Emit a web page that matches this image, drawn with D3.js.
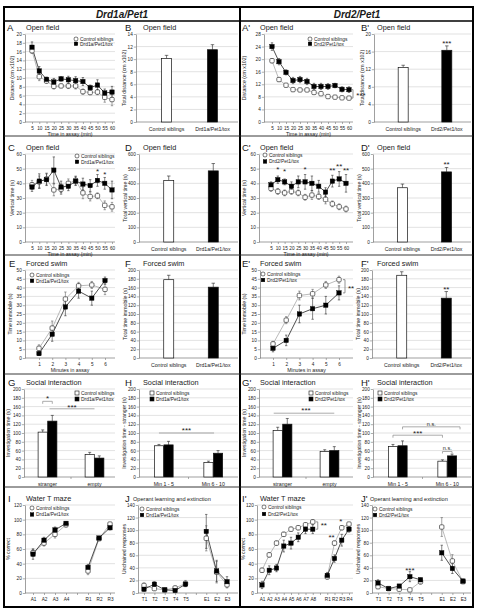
<!DOCTYPE html>
<html>
<head>
<meta charset="utf-8">
<script src="https://cdn.jsdelivr.net/npm/d3@7/dist/d3.min.js"></script>
<style>
html,body{margin:0;padding:0;background:#fff;}
svg{display:block;}
text{font-family:"Liberation Sans",Arial,sans-serif;fill:#1a1a1a;}
</style>
</head>
<body>
<svg id="fig" width="479" height="614"></svg>
<script>
// ---------------- DATA ----------------
const groupCtrl = "Control siblings";
const groupD1 = "Drd1a/Pet1/tox";
const groupD2 = "Drd2/Pet1/tox";

const timeCats = ["5","10","15","20","25","30","35","40","45","50","55","60"];
const minuteCats = ["1","2","3","4","5","6"];
const barCatsD1 = ["Control siblings","Drd1a/Pet1/tox"];
const barCatsD2 = ["Control siblings","Drd2/Pet1/tox"];
const socialCats = ["stranger","empty"];
const periodCats = ["Min 1 - 5","Min 6 - 10"];
const mazeCatsD1 = ["A1","A2","A3","A4","","R1","R2","R3"];
const mazeCatsD2 = ["A1","A2","A3","A4","A5","A6","A7","A8","","R1","R2","R3","R4"];
const operantCats = ["T1","T2","T3","T4","T5","","E1","E2","E3"];

// tick label arrays
const ticksDistA = [0,2,4,6,8,10,12,14,16,18,20];
const ticksDistB = [0,2,4,6,8,10,12,14];
const ticksDistAp = [0,4,8,12,16,20,24,28];
const ticksDistBp = [0,4,8,12,16,20];
const ticksVert = [0,10,20,30,40,50,60];
const ticksVertTot = [0,100,200,300,400,500,600];
const ticksImm = [0,5,10,15,20,25,30,35,40,45,50];
const ticksImmTot = [0,20,40,60,80,100,120,140,160,180,200];
const ticksSocial = [0,20,40,60,80,100,120,140,160,180,200];
const ticksMaze = [0,20,40,60,80,100,120];
const ticksOperant = [0,20,40,60,80,100,120,140];

// A  Open field distance (Drd1a)
const distCtrlD1 = [16.2,10.3,9.3,8.1,8.2,8.2,8.2,6.9,6.7,6.8,5.6,5.1];
const distCtrlErrD1 = [0.6,0.9,0.5,0.6,0.4,0.6,0.7,0.6,0.5,0.6,1.1,1.4];
const distMutD1 = [17.0,11.6,9.7,9.1,9.8,9.6,9.4,9.2,7.8,8.4,6.6,6.8];
const distMutErrD1 = [1.2,1.0,0.5,0.8,0.5,0.8,0.9,0.9,0.6,1.2,0.9,1.3];
// B
const totDistD1 = [10.1,11.5];
const totDistErrD1 = [0.5,0.8];
// A'
const distCtrlD2 = [19.5,13.5,11.7,10.3,10.2,10.2,9.4,9.0,8.1,7.9,7.7,7.6];
const distCtrlErrD2 = [0.7,0.6,0.5,0.5,0.4,0.5,0.5,0.5,0.4,0.4,0.4,0.4];
const distMutD2 = [24.0,19.2,15.8,13.2,13.5,12.9,11.3,11.3,11.3,11.6,10.4,10.3];
const distMutErrD2 = [1.2,1.0,0.8,1.0,1.0,1.0,1.0,1.0,0.9,0.7,0.8,0.9];
// B'
const totDistD2 = [12.4,16.3];
const totDistErrD2 = [0.5,1.0];
// C
const vertCtrlD1 = [39,41,43,35.5,36,40,42,33.5,31,31.5,25,24];
const vertCtrlErrD1 = [3,4,4,4,3.5,3,3,4,3,2,3,3];
const vertMutD1 = [37.5,41.5,42.5,49,37.5,38,41.5,39.5,38.5,42,40,35.5];
const vertMutErrD1 = [3,5,4,9,4,3,3,4,4,4,4,6];
// D
const totVertD1 = [420,485];
const totVertErrD1 = [30,50];
// C'
const vertCtrlD2 = [36.5,34.5,33.5,34.5,33.5,30.5,32,31,29,26,24,22.5];
const vertCtrlErrD2 = [2,2,2,2,2,2,3,2,3,2,2,2];
const vertMutD2 = [39,42.5,41,38,41,41,40,38,34,41.5,43,40];
const vertMutErrD2 = [2,2.5,2,3,4,5,5,4,3,4,5,6];
// D'
const totVertD2 = [370,478];
const totVertErrD2 = [25,30];
// E
const immCtrlD1 = [5.5,17,33.5,41,41.5,39];
const immCtrlErrD1 = [2,4,4,2,2,3];
const immMutD1 = [2.5,13.5,29,38,34,44];
const immMutErrD1 = [1,4,5,4,4,2];
// F
const totImmD1 = [178,161];
const totImmErrD1 = [10,9];
// E'
const immCtrlD2 = [8,21.5,35.5,36.5,41.5,44.5];
const immCtrlErrD2 = [1.5,2,2.5,2.5,2,2];
const immMutD2 = [5.5,10,25,28,30,37];
const immMutErrD2 = [2,3,5,6,5,4];
// F'
const totImmD2 = [188,136];
const totImmErrD2 = [8,15];
// G
const socCtrlD1 = [102,51];
const socCtrlErrD1 = [5,5];
const socMutD1 = [127,43];
const socMutErrD1 = [13,5];
// H
const perCtrlD1 = [71,33];
const perCtrlErrD1 = [3,3];
const perMutD1 = [73,54];
const perMutErrD1 = [8,6];
// G'
const socCtrlD2 = [106,58];
const socCtrlErrD2 = [7,4];
const socMutD2 = [120,60];
const socMutErrD2 = [13,9];
// H'
const perCtrlD2 = [69,36];
const perCtrlErrD2 = [5,3];
const perMutD2 = [71,48];
const perMutErrD2 = [11,4];
// I
const mazeCtrlD1 = [55,68,80,93,null,30,74,94];
const mazeCtrlErrD1 = [5,4,5,3,null,5,2,2];
const mazeMutD1 = [53,72,86,95,null,35,75,89];
const mazeMutErrD1 = [7,4,4,2,null,4,2,3];
// J
const opCtrlD1 = [12,7,5,8,15,null,87,33,13];
const opCtrlErrD1 = [4,3,2,3,5,null,20,17,5];
const opMutD1 = [6,14,5,4,14,null,98,35,18];
const opMutErrD1 = [3,4,1,2,3,null,27,17,8];
// I'
const mazeCtrlD2 = [31,52,68,80,87,89,93,97,null,22,68,89,94];
const mazeCtrlErrD2 = [3,3,3,3,3,3,3,3,null,3,3,3,2];
const mazeMutD2 = [11,31,34,64,68,76,87,87,null,24,47,72,87];
const mazeMutErrD2 = [5,6,5,8,8,6,6,6,null,4,5,8,4];
// J'
const opCtrlD2 = [10,7,6,5,18,null,105,51,18];
const opCtrlErrD2 = [2,1,1,1,4,null,15,10,3];
const opMutD2 = [16,7,11,26,21,null,64,39,19];
const opMutErrD2 = [5,1,2,8,3,null,12,8,3];

// ---------------- DRAWING ----------------
const svg = d3.select("#fig");
const FS_TICK = 4.7, FS_LEG = 4.9, FS_AT = 5.2, FS_TITLE = 7.3, FS_LET = 9.5, FS_STAR = 8;
const PH = 88;
const AX = "#777";

function yAxis(y, ax, xr, ticks) {
  svg.append("g").selectAll("line").data(ticks.slice(1)).join("line")
    .attr("x1", ax).attr("x2", xr).attr("y1", d => y(d)).attr("y2", d => y(d))
    .attr("stroke", "#cfcfcf").attr("stroke-width", 0.6);
  const g = svg.append("g").attr("transform", `translate(${ax},0)`)
    .call(d3.axisLeft(y).tickValues(ticks).tickSize(2.2).tickSizeOuter(0).tickPadding(1));
  g.attr("font-size", FS_TICK);
  g.select(".domain").attr("stroke", AX).attr("stroke-width", 0.7);
  g.selectAll(".tick line").attr("stroke", AX).attr("stroke-width", 0.6);
}
function xBase(ax, xr, yb) {
  svg.append("line").attr("x1", ax).attr("x2", xr).attr("y1", yb).attr("y2", yb)
    .attr("stroke", AX).attr("stroke-width", 0.7);
}
function yTitle(x, top, bottom, txt) {
  svg.append("text").attr("transform", `translate(${x},${(top + bottom) / 2}) rotate(-90)`)
    .attr("text-anchor", "middle").attr("dy", "0.35em").attr("font-size", FS_AT).text(txt);
}
function head(letter, lx, title, tx, top, small) {
  svg.append("text").attr("x", lx).attr("y", top - 3.5).attr("font-size", FS_LET).text(letter);
  svg.append("text").attr("x", tx).attr("y", top - 4.5).attr("font-size", small ? 5.6 : FS_TITLE).text(title);
}
function marker(g, cx, cy, ctrl, s) {
  s = s || 4.4;
  g.append("rect").attr("x", cx - s / 2).attr("y", cy - s / 2).attr("width", s).attr("height", s)
    .attr("rx", ctrl ? 1.1 : 0)
    .attr("fill", ctrl ? "#fff" : "#000").attr("stroke", ctrl ? "#333" : "#000").attr("stroke-width", ctrl ? 0.7 : 0.4);
}
function legend(lx, ly, names, dy, square) {
  const g = svg.append("g");
  names.forEach((n, i) => {
    const cy = ly + i * dy;
    if (square) {
      g.append("rect").attr("x", lx - 2).attr("y", cy - 2).attr("width", 4).attr("height", 4)
        .attr("fill", i === 0 ? "#fff" : "#000").attr("stroke", "#111").attr("stroke-width", 0.6);
    } else marker(g, lx, cy, i === 0, 3.6);
    g.append("text").attr("x", lx + 4).attr("y", cy + 1.7).attr("font-size", FS_LEG).text(n);
  });
}
function star(x, yc, s) {
  svg.append("text").attr("x", x).attr("y", yc + 4.3).attr("text-anchor", "middle")
    .attr("font-size", FS_STAR).text(s);
}
function errBar(g, x, y1, y2, w, col) {
  g.append("line").attr("x1", x).attr("x2", x).attr("y1", y1).attr("y2", y2).attr("stroke", col).attr("stroke-width", 0.6);
  g.append("line").attr("x1", x - w / 2).attr("x2", x + w / 2).attr("y1", y2).attr("y2", y2).attr("stroke", col).attr("stroke-width", 0.6);
}

function linePanel(p) {
  const bottom = p.top + PH;
  const y = d3.scaleLinear().domain([0, p.ticks[p.ticks.length - 1]]).range([bottom, p.top]);
  const x = d3.scalePoint().domain(p.cats).range([p.xs, p.xe]);
  yAxis(y, p.ax, p.xr, p.ticks);
  xBase(p.ax, p.xr, bottom);
  const xa = svg.append("g").attr("transform", `translate(0,${bottom})`)
    .call(d3.axisBottom(x).tickSize(2).tickSizeOuter(0).tickPadding(2.2));
  xa.attr("font-size", FS_TICK);
  xa.select(".domain").remove();
  xa.selectAll(".tick line").attr("stroke", AX).attr("stroke-width", 0.6);
  yTitle(p.ytx, p.top, bottom, p.yTitle);
  if (p.xTitle) svg.append("text").attr("x", (p.ax + p.xr) / 2).attr("y", bottom + 13.5)
    .attr("text-anchor", "middle").attr("font-size", FS_AT).text(p.xTitle);
  const series = [
    { v: p.ctrl, e: p.ctrlErr, ctrl: true, line: "#a8a8a8", err: "#666" },
    { v: p.mut, e: p.mutErr, ctrl: false, line: "#222", err: "#333" }
  ];
  const pts = series.map(s => p.cats.map((c, i) => ({ c, v: s.v[i], e: s.e[i] })));
  const line = d3.line().defined(d => d.v != null).x(d => x(d.c)).y(d => y(d.v));
  const g = svg.append("g");
  series.forEach((s, k) => g.append("path").attr("d", line(pts[k])).attr("fill", "none")
    .attr("stroke", s.line).attr("stroke-width", 0.8));
  series.forEach((s, k) => pts[k].forEach(d => {
    if (d.v == null) return;
    errBar(g, x(d.c), y(d.v - d.e), y(d.v + d.e), 2.4, s.err);
    g.append("line").attr("x1", x(d.c) - 1.2).attr("x2", x(d.c) + 1.2).attr("y1", y(d.v - d.e)).attr("y2", y(d.v - d.e)).attr("stroke", s.err).attr("stroke-width", 0.6);
  }));
  series.forEach((s, k) => pts[k].forEach(d => { if (d.v != null) marker(g, x(d.c), y(d.v), s.ctrl); }));
  legend(p.lx, p.ly, [groupCtrl, p.mutName], p.ldy || 5.5, false);
  return { x, y };
}

function barPanel(p) {
  const bottom = p.top + PH;
  const y = d3.scaleLinear().domain([0, p.ticks[p.ticks.length - 1]]).range([bottom, p.top]);
  const x = d3.scalePoint().domain(p.cats).range([p.ax + 3, p.xr + 2]).padding(0.6);
  yAxis(y, p.ax, p.xr, p.ticks);
  xBase(p.ax, p.xr, bottom);
  yTitle(p.ytx, p.top, bottom, p.yTitle);
  const g = svg.append("g");
  p.cats.forEach((c, i) => {
    errBar(g, x(c), y(p.vals[i]), y(p.vals[i] + p.err[i]), 3.5, "#222");
    g.append("rect").attr("x", x(c) - 5).attr("y", y(p.vals[i])).attr("width", 10)
      .attr("height", bottom - y(p.vals[i])).attr("fill", i === 0 ? "#fff" : "#000")
      .attr("stroke", "#111").attr("stroke-width", 0.7);
    svg.append("text").attr("x", x(c)).attr("y", bottom + 8.5).attr("text-anchor", "middle")
      .attr("font-size", FS_AT).text(c);
  });
  return { x, y };
}

function groupPanel(p) {
  const bottom = p.top + PH;
  const y = d3.scaleLinear().domain([0, p.ticks[p.ticks.length - 1]]).range([bottom, p.top]);
  const x = d3.scaleBand().domain(p.cats).range([p.ax, p.bxr]);
  const sub = d3.scaleBand().domain(["ctrl", "mut"]).range([-9.4, 9.4]).paddingInner(0.04);
  yAxis(y, p.ax, p.xr, p.ticks);
  xBase(p.ax, p.xr, bottom);
  yTitle(p.ytx, p.top, bottom, p.yTitle);
  const g = svg.append("g");
  g.append("line").attr("x1", x(p.cats[1])).attr("x2", x(p.cats[1])).attr("y1", bottom).attr("y2", bottom + 2)
    .attr("stroke", AX).attr("stroke-width", 0.6);
  const sets = [{ k: "ctrl", v: p.ctrl, e: p.ctrlErr }, { k: "mut", v: p.mut, e: p.mutErr }];
  p.cats.forEach((c, i) => {
    sets.forEach((s, j) => {
      const bx = x(c) + x.bandwidth() / 2 + sub(s.k);
      const bw = sub.bandwidth();
      errBar(g, bx + bw / 2, y(s.v[i]), y(s.v[i] + s.e[i]), 3, "#222");
      g.append("rect").attr("x", bx).attr("y", y(s.v[i])).attr("width", bw).attr("height", bottom - y(s.v[i]))
        .attr("fill", j === 0 ? "#fff" : "#000").attr("stroke", "#111").attr("stroke-width", 0.7);
    });
    svg.append("text").attr("x", x(c) + x.bandwidth() / 2).attr("y", bottom + 8.5).attr("text-anchor", "middle")
      .attr("font-size", FS_AT).text(c);
  });
  legend(p.lx, p.ly, [groupCtrl, p.mutName], 6, true);
  const center = (c, k) => x(c) + x.bandwidth() / 2 + sub(k) + sub.bandwidth() / 2;
  return { x, y, center };
}

function hLine(x1, x2, yv, drop) {
  const g = svg.append("g").attr("stroke", "#888").attr("stroke-width", 0.7).attr("fill", "none");
  g.append("path").attr("d", drop ? `M${x1},${yv + drop}V${yv}H${x2}V${yv + drop}` : `M${x1},${yv}H${x2}`);
}
function vBracket(xb, y1, y2) {
  svg.append("path").attr("d", `M${xb - 2},${y1}H${xb}V${y2}H${xb - 2}`).attr("fill", "none")
    .attr("stroke", "#666").attr("stroke-width", 0.7);
}

// ---------------- FRAME ----------------
const rowTops = [34, 154, 270, 389, 505];
svg.append("rect").attr("x", 4).attr("y", 7).attr("width", 469).attr("height", 600)
  .attr("fill", "none").attr("stroke", "#000").attr("stroke-width", 2);
svg.append("line").attr("x1", 240).attr("x2", 240).attr("y1", 7).attr("y2", 607).attr("stroke", "#000").attr("stroke-width", 2);
svg.append("line").attr("x1", 4).attr("x2", 473).attr("y1", 21).attr("y2", 21).attr("stroke", "#000").attr("stroke-width", 1.6);
[136, 255, 374, 487].forEach(yy => svg.append("line").attr("x1", 4).attr("x2", 473).attr("y1", yy).attr("y2", yy)
  .attr("stroke", "#222").attr("stroke-width", 0.9));
svg.append("text").attr("x", 122).attr("y", 18).attr("text-anchor", "middle").attr("font-size", 10)
  .attr("font-weight", "bold").attr("font-style", "italic").text("Drd1a/Pet1");
svg.append("text").attr("x", 357).attr("y", 18).attr("text-anchor", "middle").attr("font-size", 10)
  .attr("font-weight", "bold").attr("font-style", "italic").text("Drd2/Pet1");

// ---------------- ROW 1: Open field distance ----------------
let T = rowTops[0];
head("A", 7, "Open field", 26, T);
linePanel({ top: T, ax: 25, xr: 115, xs: 32, xe: 112, cats: timeCats, ticks: ticksDistA,
  ctrl: distCtrlD1, ctrlErr: distCtrlErrD1, mut: distMutD1, mutErr: distMutErrD1,
  yTitle: "Distance (cm x102)", ytx: 12, xTitle: "Time in assay (min)", lx: 76, ly: 39, ldy: 4.8, mutName: groupD1 });
head("B", 125, "Open field", 143, T);
barPanel({ top: T, ax: 136, xr: 238, cats: barCatsD1, ticks: ticksDistB, vals: totDistD1, err: totDistErrD1,
  yTitle: "Total distance (cm x102)", ytx: 124.5 });
head("A'", 242, "Open field", 260, T);
let sAp = linePanel({ top: T, ax: 264, xr: 353, xs: 272, xe: 349, cats: timeCats, ticks: ticksDistAp,
  ctrl: distCtrlD2, ctrlErr: distCtrlErrD2, mut: distMutD2, mutErr: distMutErrD2,
  yTitle: "Distance (cm x102)", ytx: 244, xTitle: "Time in assay (min)", lx: 310, ly: 39, ldy: 4.8, mutName: groupD2 });
vBracket(sAp.x("60") + 4, sAp.y(distCtrlD2[11]), sAp.y(distMutD2[11]));
star(sAp.x("60") + 12, (sAp.y(distCtrlD2[11]) + sAp.y(distMutD2[11])) / 2, "***");
head("B'", 361, "Open field", 377, T);
let sBp = barPanel({ top: T, ax: 374, xr: 471, cats: barCatsD2, ticks: ticksDistBp, vals: totDistD2, err: totDistErrD2,
  yTitle: "Total distance (cm x102)", ytx: 362.5 });
star(sBp.x(barCatsD2[1]), sBp.y(18.2), "***");

// ---------------- ROW 2: Open field vertical ----------------
T = rowTops[1];
head("C", 8, "Open field", 26, T);
let sC = linePanel({ top: T, ax: 25, xr: 115, xs: 32, xe: 112, cats: timeCats, ticks: ticksVert,
  ctrl: vertCtrlD1, ctrlErr: vertCtrlErrD1, mut: vertMutD1, mutErr: vertMutErrD1,
  yTitle: "Vertical time (s)", ytx: 12, xTitle: "Time in assay (min)", lx: 77, ly: 156, ldy: 5.8, mutName: groupD1 });
star(sC.x("50"), sC.y(49.5), "*");
star(sC.x("55"), sC.y(47.5), "*");
head("D", 125, "Open field", 143, T);
barPanel({ top: T, ax: 139, xr: 238, cats: barCatsD1, ticks: ticksVertTot, vals: totVertD1, err: totVertErrD1,
  yTitle: "Total vertical time (s)", ytx: 125 });
head("C'", 242, "Open field", 260, T);
let sCp = linePanel({ top: T, ax: 259, xr: 353, xs: 271, xe: 346, cats: timeCats, ticks: ticksVert,
  ctrl: vertCtrlD2, ctrlErr: vertCtrlErrD2, mut: vertMutD2, mutErr: vertMutErrD2,
  yTitle: "Vertical time (s)", ytx: 244, xTitle: "Time in assay (min)", lx: 265, ly: 155, ldy: 6.5, mutName: groupD2 });
star(sCp.x("10"), sCp.y(51), "*");
star(sCp.x("15"), sCp.y(49.5), "*");
star(sCp.x("30"), sCp.y(51), "*");
star(sCp.x("50"), sCp.y(50), "**");
star(sCp.x("55"), sCp.y(53), "**");
star(sCp.x("60"), sCp.y(50), "**");
head("D'", 361, "Open field", 377, T);
let sDp = barPanel({ top: T, ax: 373, xr: 471, cats: barCatsD2, ticks: ticksVertTot, vals: totVertD2, err: totVertErrD2,
  yTitle: "Total vertical time (s)", ytx: 359 });
star(sDp.x(barCatsD2[1]), sDp.y(540), "**");

// ---------------- ROW 3: Forced swim ----------------
T = rowTops[2];
head("E", 9, "Forced swim", 26, T);
linePanel({ top: T, ax: 25, xr: 115, xs: 39, xe: 105, cats: minuteCats, ticks: ticksImm,
  ctrl: immCtrlD1, ctrlErr: immCtrlErrD1, mut: immMutD1, mutErr: immMutErrD1,
  yTitle: "Time immobile (s)", ytx: 10, xTitle: "Minutes in assay", lx: 32, ly: 275, ldy: 5.8, mutName: groupD1 });
head("F", 125, "Forced swim", 143, T);
barPanel({ top: T, ax: 139, xr: 238, cats: barCatsD1, ticks: ticksImmTot, vals: totImmD1, err: totImmErrD1,
  yTitle: "Total time immobile (s)", ytx: 125 });
head("E'", 242, "Forced swim", 260, T);
let sEp = linePanel({ top: T, ax: 260, xr: 353, xs: 273, xe: 339, cats: minuteCats, ticks: ticksImm,
  ctrl: immCtrlD2, ctrlErr: immCtrlErrD2, mut: immMutD2, mutErr: immMutErrD2,
  yTitle: "Time immobile (s)", ytx: 244, xTitle: "Minutes in assay", lx: 263, ly: 274, ldy: 6, mutName: groupD2 });
vBracket(sEp.x("6") + 6, sEp.y(immCtrlD2[5]), sEp.y(immMutD2[5]));
star(sEp.x("6") + 12, sEp.y(40.5), "**");
head("F'", 361, "Forced swim", 377, T);
let sFp = barPanel({ top: T, ax: 372, xr: 471, cats: barCatsD2, ticks: ticksImmTot, vals: totImmD2, err: totImmErrD2,
  yTitle: "Total time immobile (s)", ytx: 358.5 });
star(sFp.x(barCatsD2[1]), sFp.y(159), "**");

// ---------------- ROW 4: Social interaction ----------------
T = rowTops[3];
head("G", 8, "Social interaction", 26, T);
let sG = groupPanel({ top: T, ax: 24, xr: 115, bxr: 118, cats: socialCats, ticks: ticksSocial,
  ctrl: socCtrlD1, ctrlErr: socCtrlErrD1, mut: socMutD1, mutErr: socMutErrD1,
  yTitle: "Investigation time (s)", ytx: 8, lx: 77, ly: 393, mutName: groupD1 });
hLine(sG.center("stranger", "ctrl"), sG.center("stranger", "mut"), sG.y(172), 2.5);
star((sG.center("stranger", "ctrl") + sG.center("stranger", "mut")) / 2, sG.y(182), "*");
hLine(sG.x("stranger") + sG.x.bandwidth() / 2 + 2, sG.x("empty") + sG.x.bandwidth() / 2, sG.y(155), 0);
star((sG.x("stranger") + sG.x("empty")) / 2 + sG.x.bandwidth() / 2 + 1, sG.y(162), "***");
head("H", 125, "Social interaction", 143, T);
let sH = groupPanel({ top: T, ax: 139, xr: 238, bxr: 238, cats: periodCats, ticks: ticksSocial,
  ctrl: perCtrlD1, ctrlErr: perCtrlErrD1, mut: perMutD1, mutErr: perMutErrD1,
  yTitle: "Investigation time - stranger (s)", ytx: 124.5, lx: 152, ly: 393, mutName: groupD1 });
hLine(sH.center(periodCats[0], "ctrl"), sH.center(periodCats[1], "mut") - 4, sH.y(100), 0);
star((sH.center(periodCats[0], "ctrl") + sH.center(periodCats[1], "mut")) / 2 - 2, sH.y(110), "***");
head("G'", 242, "Social interaction", 260, T);
let sGp = groupPanel({ top: T, ax: 259, xr: 353, bxr: 353, cats: socialCats, ticks: ticksSocial,
  ctrl: socCtrlD2, ctrlErr: socCtrlErrD2, mut: socMutD2, mutErr: socMutErrD2,
  yTitle: "Investigation time (s)", ytx: 244, lx: 311, ly: 393, mutName: groupD2 });
hLine(sGp.center("stranger", "ctrl") - 4, sGp.center("empty", "mut"), sGp.y(145), 0);
star((sGp.center("stranger", "ctrl") + sGp.center("empty", "mut")) / 2, sGp.y(155), "***");
head("H'", 361, "Social interaction", 377, T);
let sHp = groupPanel({ top: T, ax: 373, xr: 471, bxr: 472, cats: periodCats, ticks: ticksSocial,
  ctrl: perCtrlD2, ctrlErr: perCtrlErrD2, mut: perMutD2, mutErr: perMutErrD2,
  yTitle: "Investigation time - stranger (s)", ytx: 359, lx: 380, ly: 393, mutName: groupD2 });
hLine(sHp.center(periodCats[0], "ctrl"), sHp.center(periodCats[1], "ctrl"), sHp.y(95), 2.5);
star((sHp.center(periodCats[0], "ctrl") + sHp.center(periodCats[1], "ctrl")) / 2, sHp.y(104), "***");
hLine(sHp.center(periodCats[0], "mut"), sHp.center(periodCats[1], "mut") + 8, sHp.y(114), 2.5);
svg.append("text").attr("x", (sHp.center(periodCats[0], "mut") + sHp.center(periodCats[1], "mut")) / 2 + 4)
  .attr("y", sHp.y(117)).attr("text-anchor", "middle").attr("font-size", 5.5).text("n.s.");
hLine(sHp.center(periodCats[1], "ctrl"), sHp.center(periodCats[1], "mut"), sHp.y(58), 2);
svg.append("text").attr("x", (sHp.center(periodCats[1], "ctrl") + sHp.center(periodCats[1], "mut")) / 2)
  .attr("y", sHp.y(61)).attr("text-anchor", "middle").attr("font-size", 5.5).text("n.s.");

// ---------------- ROW 5: Water T maze / Operant ----------------
T = rowTops[4];
head("I", 8, "Water T maze", 26, T);
linePanel({ top: T, ax: 25, xr: 115, xs: 33, xe: 110, cats: mazeCatsD1, ticks: ticksMaze,
  ctrl: mazeCtrlD1, ctrlErr: mazeCtrlErrD1, mut: mazeMutD1, mutErr: mazeMutErrD1,
  yTitle: "% correct", ytx: 8, lx: 32, ly: 508, ldy: 6.5, mutName: groupD1 });
head("J", 125, "Operant learning and extinction", 133, T, true);
linePanel({ top: T, ax: 138, xr: 238, xs: 144, xe: 227, cats: operantCats, ticks: ticksOperant,
  ctrl: opCtrlD1, ctrlErr: opCtrlErrD1, mut: opMutD1, mutErr: opMutErrD1,
  yTitle: "Unchained responses", ytx: 124.5, lx: 142, ly: 509, ldy: 6, mutName: groupD1 });
head("I'", 242, "Water T maze", 260, T);
let sIp = linePanel({ top: T, ax: 257, xr: 353, xs: 262, xe: 349, cats: mazeCatsD2, ticks: ticksMaze,
  ctrl: mazeCtrlD2, ctrlErr: mazeCtrlErrD2, mut: mazeMutD2, mutErr: mazeMutErrD2,
  yTitle: "% correct", ytx: 243, lx: 264, ly: 507, ldy: 7, mutName: groupD2 });
vBracket(sIp.x("A8") + 5, sIp.y(mazeCtrlD2[7]), sIp.y(mazeMutD2[7]));
star(sIp.x("A8") + 11, sIp.y(95), "**");
star(sIp.x("R2") - 3, sIp.y(78), "**");
star(sIp.x("R3") - 1, sIp.y(100), "*");
head("J'", 361, "Operant learning and extinction", 370, T, true);
let sJp = linePanel({ top: T, ax: 372, xr: 471, xs: 378, xe: 463, cats: operantCats, ticks: ticksOperant,
  ctrl: opCtrlD2, ctrlErr: opCtrlErrD2, mut: opMutD2, mutErr: opMutErrD2,
  yTitle: "Unchained responses", ytx: 358.5, lx: 375, ly: 509, ldy: 6, mutName: groupD2 });
star(sJp.x("T4"), sJp.y(38), "***");
</script>
</body>
</html>
